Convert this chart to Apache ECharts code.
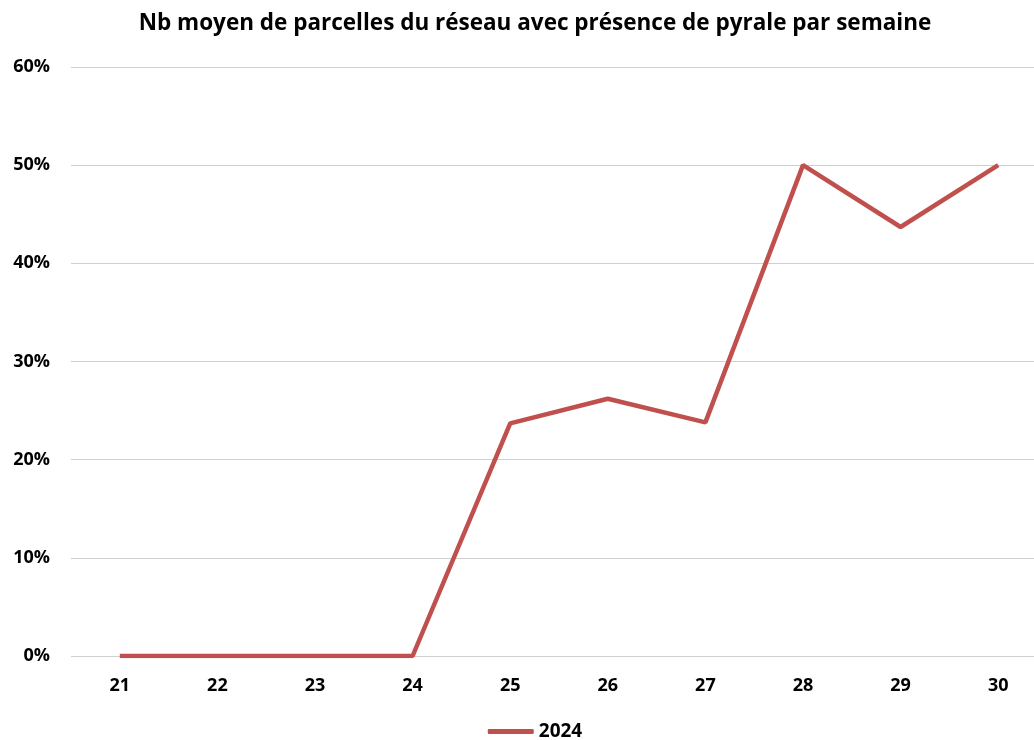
<!DOCTYPE html>
<html>
<head>
<meta charset="utf-8">
<script src="https://cdn.jsdelivr.net/npm/echarts@6/dist/echarts.min.js"></script>
<style>
  html, body { margin: 0; padding: 0; background: #fff; overflow: hidden; }
  /* the original chart is wider than the window and cut off on the right */
  #main { width: 1070px; height: 740px; }
</style>
</head>
<body>
<div id="main"></div>
<script>
const weeks = ['21', '22', '23', '24', '25', '26', '27', '28', '29', '30']
const values2024 = [0, 0, 0, 0, 0.237, 0.262, 0.238, 0.50, 0.437, 0.50]

const font = 'Open Sans'
const chart = echarts.init(document.getElementById('main'))

chart.setOption({
  backgroundColor: '#fff',
  title: {
    text: 'Nb moyen de parcelles du réseau avec présence de pyrale par semaine',
    left: 'center',
    top: 7,
    textStyle: { fontFamily: font, fontWeight: 'bold', fontSize: 22.5, color: '#000' }
  },
  legend: {
    bottom: -6,
    left: 'center',
    itemWidth: 46,
    itemHeight: 5,
    itemGap: 4,
    icon: 'roundRect',
    textStyle: { fontFamily: font, fontWeight: 'bold', fontSize: 19, color: '#000' },
    data: ['2024']
  },
  grid: {
    left: 71,
    top: 67,
    right: 23,
    bottom: 84
  },
  xAxis: {
    type: 'category',
    data: weeks,
    boundaryGap: true,
    axisLine: { show: false },
    axisTick: { show: false },
    axisLabel: { fontFamily: font, fontWeight: 'bold', fontSize: 18, color: '#000', margin: 21 }
  },
  yAxis: {
    type: 'value',
    min: 0,
    max: 0.6,
    interval: 0.1,
    axisLine: { show: false },
    axisTick: { show: false },
    splitLine: { lineStyle: { color: '#d0d0d0', width: 1 } },
    axisLabel: {
      fontFamily: font, fontWeight: 'bold', fontSize: 18, color: '#000', margin: 21,
      formatter: v => Math.round(v * 100) + '%'
    }
  },
  series: [
    {
      name: '2024',
      type: 'line',
      data: values2024,
      symbol: 'none',
      lineStyle: { color: '#C0504D', width: 4.5 },
      itemStyle: { color: '#C0504D' }
    }
  ]
})
</script>
</body>
</html>
